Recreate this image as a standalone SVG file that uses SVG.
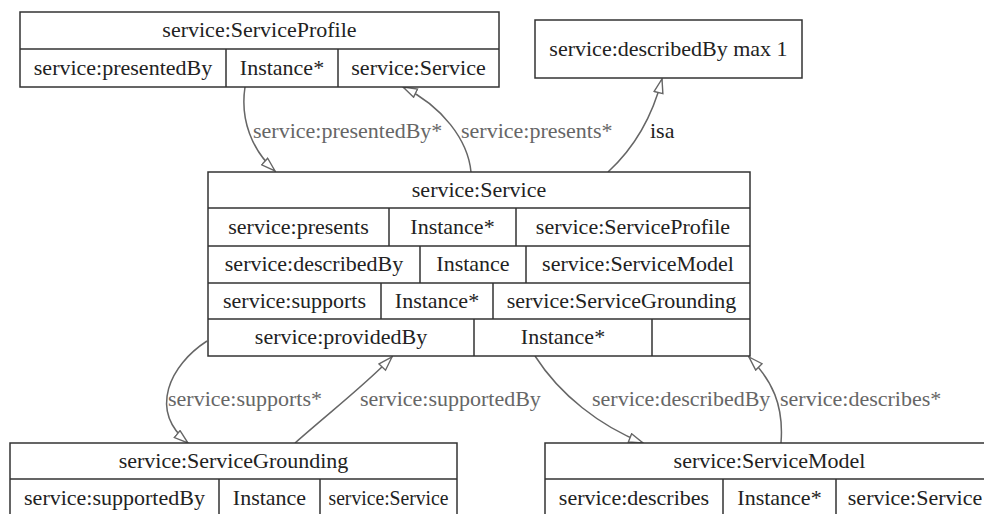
<svg xmlns="http://www.w3.org/2000/svg" width="984" height="514" viewBox="0 0 984 514">
  <style>
    .box { fill: #ffffff; stroke: #333333; stroke-width: 1.5; }
    .div { stroke: #333333; stroke-width: 1.5; fill: none; }
    .t { font-family: "Liberation Serif", "Times New Roman", serif; font-size: 22px; fill: #222222; text-anchor: middle; }
    .lbl { font-family: "Liberation Serif", "Times New Roman", serif; font-size: 22px; fill: #666666; }
    .isa { fill: #222222; }
    .edge { fill: none; stroke: #666666; stroke-width: 1.5; marker-end: url(#hollow); }
  </style>
  <defs>
    <marker id="hollow" viewBox="0 0 16 11" markerWidth="16" markerHeight="11" refX="15" refY="5.5" orient="auto" markerUnits="userSpaceOnUse">
      <path d="M1,1 L15,5.5 L1,10 z" fill="#ffffff" stroke="#666666" stroke-width="1.4"/>
    </marker>
  </defs>
  <rect width="984" height="514" fill="#ffffff"/>

  <!-- connectors -->
  <g id="edges">
    <path class="edge" d="M245,87 C240,120 252,150 275,171"/>
    <path class="edge" d="M471,172 C468,140 442,106 403,87"/>
    <path class="edge" d="M608,172 C632,150 652,118 662,79"/>
    <path class="edge" d="M207,341 C170,365 148,410 188,443"/>
    <path class="edge" d="M295,443 C330,412 365,385 392,357"/>
    <path class="edge" d="M535,356 C560,395 600,426 643,443"/>
    <path class="edge" d="M781,443 C784,405 772,380 749,357"/>
    <text class="lbl" x="253" y="138">service:presentedBy*</text>
    <text class="lbl" x="461" y="138">service:presents*</text>
    <text class="lbl isa" x="650" y="138">isa</text>
    <text class="lbl" x="168" y="406">service:supports*</text>
    <text class="lbl" x="360" y="406">service:supportedBy</text>
    <text class="lbl" x="592" y="406">service:describedBy</text>
    <text class="lbl" x="780" y="406">service:describes*</text>
  </g>

  <!-- service:ServiceProfile -->
  <g id="ServiceProfile">
    <rect class="box" x="20" y="12" width="479" height="75"/>
    <path class="div" d="M20,49 H499 M226,49 V87 M338,49 V87"/>
    <text class="t" x="259.5" y="37">service:ServiceProfile</text>
    <text class="t" x="123" y="75">service:presentedBy</text>
    <text class="t" x="282" y="75">Instance*</text>
    <text class="t" x="418.5" y="75">service:Service</text>
  </g>

  <!-- restriction node -->
  <g id="describedByMax1">
    <rect class="box" x="535" y="20" width="267" height="58"/>
    <text class="t" x="668.5" y="56">service:describedBy max 1</text>
  </g>

  <!-- service:Service -->
  <g id="Service">
    <rect class="box" x="208" y="172" width="542" height="184"/>
    <path class="div" d="M208,208 H750 M208,246 H750 M208,283 H750 M208,319 H750
                         M389,208 V246 M516,208 V246
                         M420,246 V283 M526,246 V283
                         M381,283 V319 M493,283 V319
                         M474,319 V356 M652,319 V356"/>
    <text class="t" x="479" y="197">service:Service</text>
    <text class="t" x="298.5" y="234">service:presents</text>
    <text class="t" x="452.5" y="234">Instance*</text>
    <text class="t" x="633" y="234">service:ServiceProfile</text>
    <text class="t" x="314" y="271">service:describedBy</text>
    <text class="t" x="473" y="271">Instance</text>
    <text class="t" x="638" y="271">service:ServiceModel</text>
    <text class="t" x="294.5" y="308">service:supports</text>
    <text class="t" x="437" y="308">Instance*</text>
    <text class="t" x="621.5" y="308">service:ServiceGrounding</text>
    <text class="t" x="341" y="344">service:providedBy</text>
    <text class="t" x="563" y="344">Instance*</text>
  </g>

  <!-- service:ServiceGrounding -->
  <g id="ServiceGrounding">
    <rect class="box" x="10" y="443" width="447" height="74"/>
    <path class="div" d="M10,479 H457 M219,479 V517 M320,479 V517"/>
    <text class="t" x="233.5" y="468">service:ServiceGrounding</text>
    <text class="t" x="114.5" y="505">service:supportedBy</text>
    <text class="t" x="269.5" y="505">Instance</text>
    <text class="t" x="388.5" y="505" textLength="120" lengthAdjust="spacingAndGlyphs">service:Service</text>
  </g>

  <!-- service:ServiceModel -->
  <g id="ServiceModel">
    <rect class="box" x="545" y="443" width="449" height="74"/>
    <path class="div" d="M545,479 H994 M723,479 V517 M836,479 V517"/>
    <text class="t" x="769.5" y="468">service:ServiceModel</text>
    <text class="t" x="634" y="505">service:describes</text>
    <text class="t" x="779.5" y="505">Instance*</text>
    <text class="t" x="915" y="505">service:Service</text>
  </g>
</svg>
